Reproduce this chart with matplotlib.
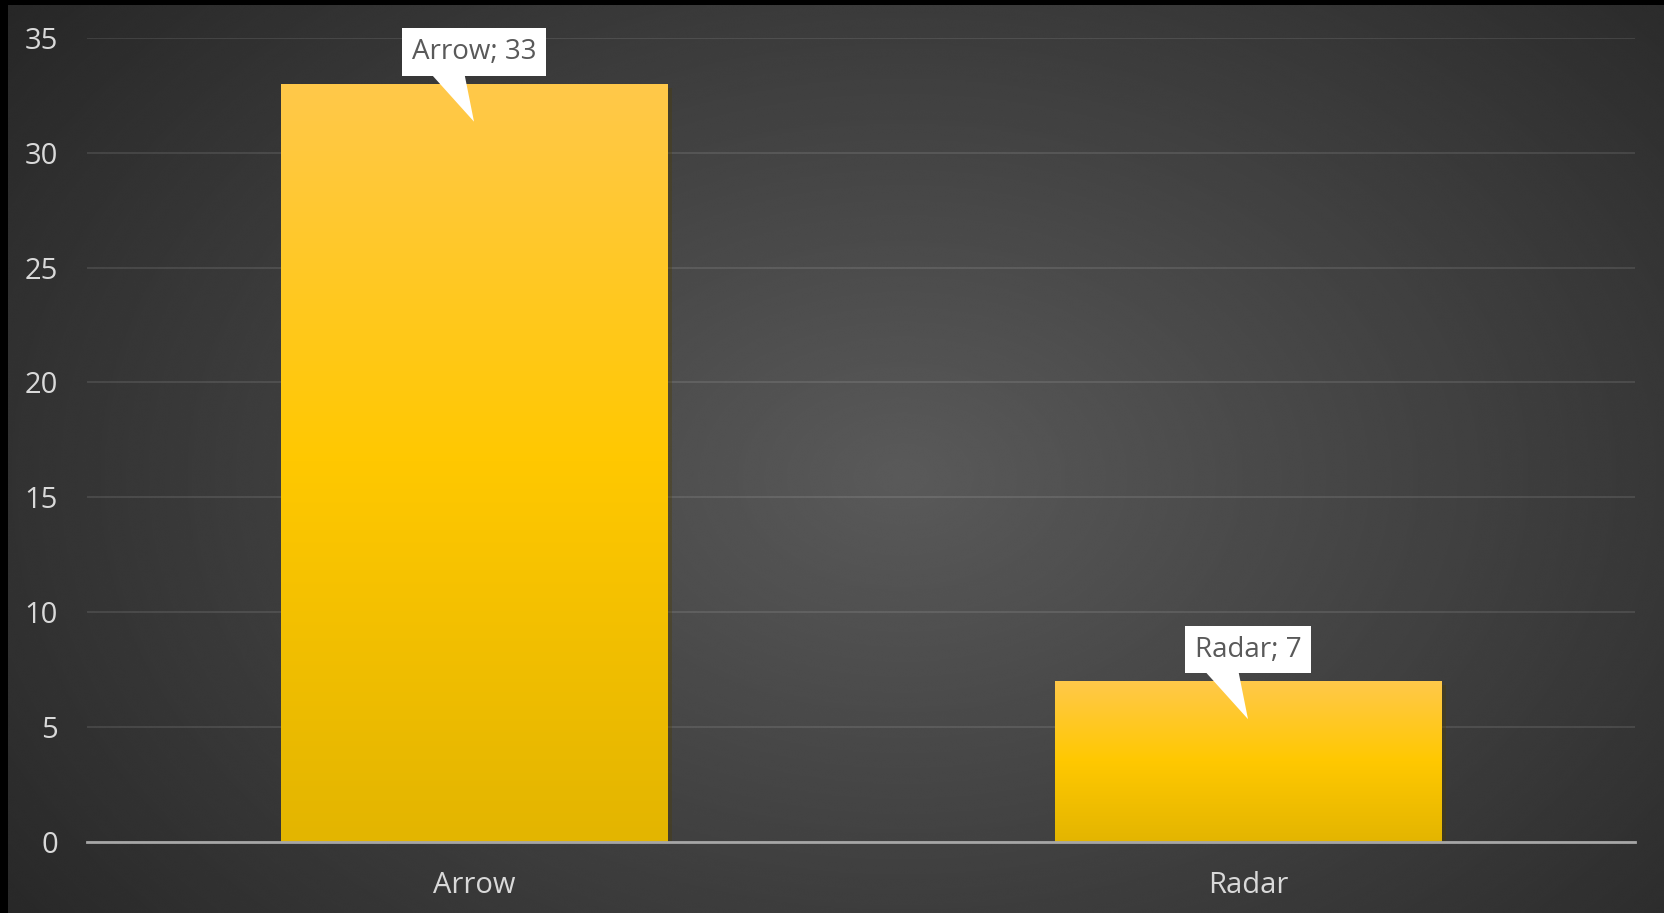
import numpy as np
import matplotlib
matplotlib.use('Agg')
import matplotlib.pyplot as plt
import matplotlib.patheffects as pe
from matplotlib.patches import Polygon
from matplotlib.transforms import IdentityTransform
from matplotlib.colors import LinearSegmentedColormap

plt.rcParams['font.family'] = ['Open Sans', 'DejaVu Sans']

# data
categories = ['Arrow', 'Radar']
values = [33, 7]
y_ticks = [0, 5, 10, 15, 20, 25, 30, 35]

W, H = 1665, 913
fig = plt.figure(figsize=(W / 100, H / 100), dpi=100, facecolor='black')

# radial grey background
bg = fig.add_axes([8 / W, 0, (W - 9) / W, (H - 5) / H])
bg.set_axis_off()
yy, xx = np.mgrid[0:1:600j, 0:1:1100j]
r = np.sqrt(((xx - 0.54) / 0.62) ** 2 + ((yy - 0.52) / 0.78) ** 2)
t = np.clip(r / 1.12, 0, 1)
shade = (0x5a / 255) * (1 - t) + (0x26 / 255) * t
bg.imshow(shade, cmap='gray', vmin=0, vmax=1, aspect='auto',
          extent=(0, 1, 0, 1), interpolation='bicubic')
bg.set_xlim(0, 1)
bg.set_ylim(0, 1)

# main axes
ax = fig.add_axes([87 / W, 71 / H, (1635 - 87) / W, (842 - 37.7) / H])
ax.patch.set_alpha(0)
x = np.arange(len(categories))
bars = ax.bar(x, values, width=0.5, color='#FFC800', zorder=2,
              path_effects=[pe.SimplePatchShadow(offset=(3, -3), alpha=0.35),
                            pe.Normal()])

bar_cmap = LinearSegmentedColormap.from_list(
    'bar', [(0, '#E3B500'), (0.5, '#FFC800'), (1, '#FFC94A')])
grad = np.linspace(0, 1, 256).reshape(-1, 1)
for b in bars:
    x0, w, h = b.get_x(), b.get_width(), b.get_height()
    im = ax.imshow(grad, cmap=bar_cmap, origin='lower', aspect='auto',
                   extent=(x0, x0 + w, 0, h), zorder=2.5)
    im.set_clip_path(b)

ax.set_xlim(-0.5, len(categories) - 0.5)
ax.set_ylim(0, 35)
ax.set_xticks(x)
ax.set_xticklabels(categories)
ax.set_yticks(y_ticks)
ax.yaxis.grid(True, color='white', alpha=0.1, lw=1.5)
ax.set_axisbelow(True)
for s in ['top', 'right', 'left']:
    ax.spines[s].set_visible(False)
ax.spines['bottom'].set_color('#A6A6A6')
ax.spines['bottom'].set_linewidth(2)
ax.spines['bottom'].set_zorder(3)
ax.tick_params(axis='both', length=0, colors='#D9D9D9', labelsize=21)
ax.tick_params(axis='y', pad=21)
ax.tick_params(axis='x', pad=21)

# callout data labels
for b, cat, v in zip(bars, categories, values):
    cx = b.get_x() + b.get_width() / 2
    px, py = ax.transData.transform((cx, v))
    tip = Polygon([(px - 45, py + 12), (px - 10, py + 12), (px, py - 38)],
                  closed=True, transform=IdentityTransform(),
                  fc='white', ec='none', zorder=4)
    fig.add_artist(tip)
    ax.annotate(f'{cat}; {v}', xy=(cx, v), xytext=(0, 31.5),
                textcoords='offset pixels', ha='center', va='center',
                fontsize=20, color='#595959', zorder=5,
                bbox=dict(boxstyle='square,pad=0.35', fc='white', ec='none'))

fig.savefig('out.png', dpi=100, facecolor='black')
